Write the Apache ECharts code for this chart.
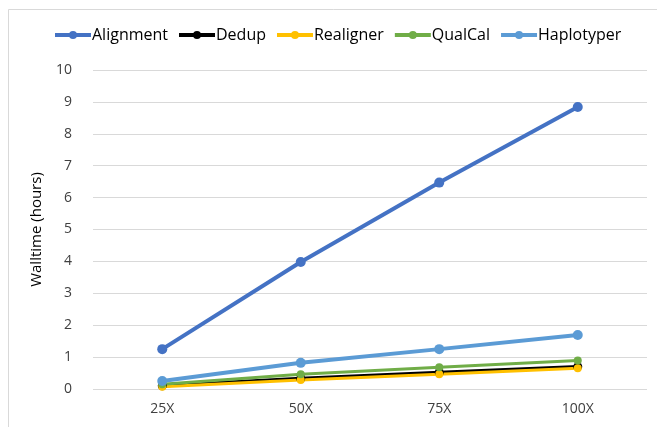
<!DOCTYPE html>
<html>
<head>
<meta charset="utf-8">
<script src="https://cdn.jsdelivr.net/npm/echarts@6/dist/echarts.min.js"></script>
<style>
  html, body { margin: 0; padding: 0; background: #fff; }
  #chart { width: 657px; height: 427px; }
</style>
</head>
<body>
<div id="chart"></div>
<script>
// Coverage levels on the x axis
const categories = ['25X', '50X', '75X', '100X'];

// Walltime per pipeline stage, in hours
const alignment  = [1.25, 3.98, 6.47, 8.84];
const dedup      = [0.10, 0.33, 0.52, 0.70];
const realigner  = [0.07, 0.28, 0.46, 0.65];
const qualCal    = [0.15, 0.46, 0.68, 0.89];
const haplotyper = [0.25, 0.82, 1.25, 1.69];

const yTicks = [0, 1, 2, 3, 4, 5, 6, 7, 8, 9, 10];

const FONT = '"Open Sans", "Noto Sans", sans-serif';

function line(name, data, color, width, symbolSize) {
  return {
    name, type: 'line', data,
    symbol: 'circle', symbolSize,
    lineStyle: { color, width },
    itemStyle: { color },
    emphasis: { disabled: true },
    animation: false
  };
}

const chart = echarts.init(document.getElementById('chart'), null, { renderer: 'canvas' });
chart.setOption({
  backgroundColor: '#fff',
  animation: false,
  graphic: [{
    type: 'rect',
    shape: { x: 8.5, y: 9.5, width: 660, height: 430 },
    style: { fill: 'none', stroke: '#d9d9d9', lineWidth: 1 },
    silent: true, z: -1
  }],
  legend: {
    top: 22,
    left: 48,
    itemGap: 9,
    itemWidth: 36,
    itemHeight: 10,
    lineStyle: { width: 4 },
    textStyle: { fontFamily: FONT, fontSize: 16, color: '#000', padding: [0, 0, 0, -4] },
    data: ['Alignment', 'Dedup', 'Realigner', 'QualCal', 'Haplotyper']
  },
  grid: { left: 93, right: 10, top: 70, bottom: 38, containLabel: false },
  xAxis: {
    type: 'category',
    data: categories,
    boundaryGap: true,
    axisLine: { show: false },
    axisTick: { show: false },
    axisLabel: { fontFamily: FONT, fontSize: 14, color: '#404040', margin: 13 }
  },
  yAxis: {
    type: 'value',
    min: yTicks[0],
    max: yTicks[yTicks.length - 1],
    interval: 1,
    name: 'Walltime (hours)',
    nameLocation: 'middle',
    nameGap: 49,
    nameTextStyle: { fontFamily: FONT, fontSize: 15, color: '#000' },
    axisLine: { show: false },
    axisTick: { show: false },
    axisLabel: { fontFamily: FONT, fontSize: 14, color: '#404040', margin: 21 },
    splitLine: { lineStyle: { color: '#d9d9d9', width: 1 } }
  },
  series: [
    line('Alignment', alignment, '#4472C4', 4, 10),
    line('Dedup', dedup, '#000000', 3.5, 9),
    line('Realigner', realigner, '#FFC000', 3, 8),
    line('QualCal', qualCal, '#70AD47', 3, 8),
    line('Haplotyper', haplotyper, '#5B9BD5', 4, 10)
  ]
});
</script>
</body>
</html>
